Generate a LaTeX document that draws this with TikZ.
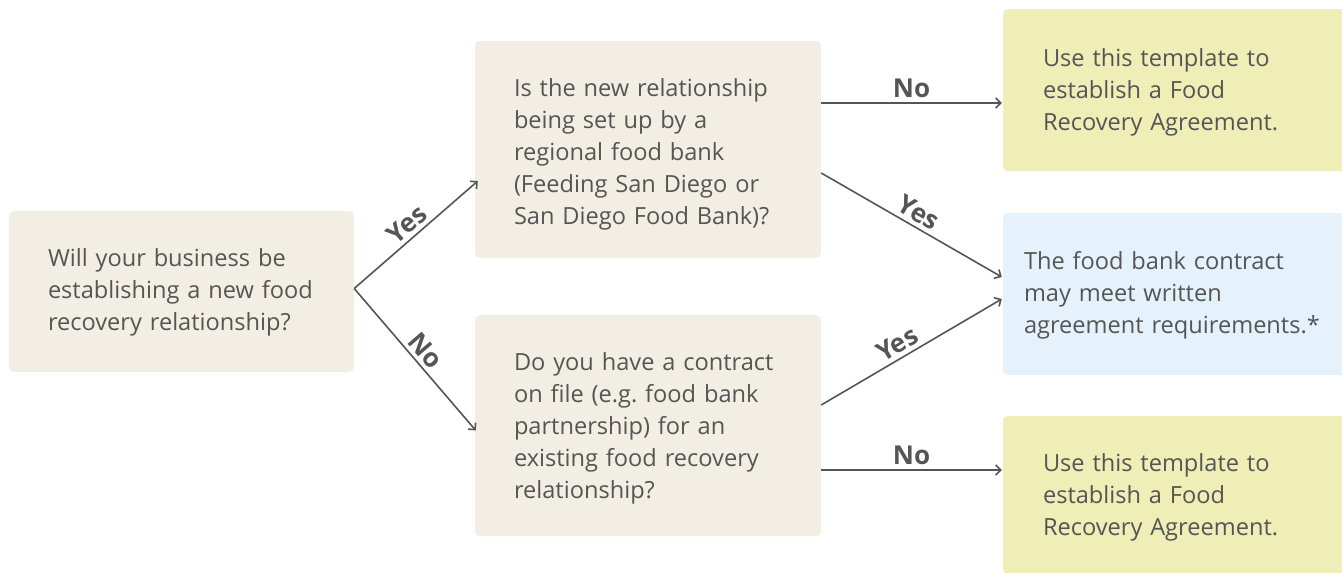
\documentclass[tikz,border=0pt]{standalone}
\usepackage{fontspec}
\setmainfont{Open Sans}
\usetikzlibrary{arrows.meta,calc}
\definecolor{txt}{HTML}{555555}
\definecolor{beige}{HTML}{F2EEE4}
\definecolor{ylw}{HTML}{EEEEB6}
\definecolor{blu}{HTML}{E6F2FB}
\frenchspacing
\begin{document}
\begin{tikzpicture}[x=1pt,y=-1pt,
  box/.style={rounded corners=5pt,inner ysep=0pt,align=left,anchor=center,
    font=\fontsize{23.6}{32}\selectfont,text=txt,
    execute at begin node={\strut\rule{0pt}{24.4pt}},execute at end node=\strut},
  lower/.style={execute at begin node={\rule{0pt}{#1}}},
  qbox/.style={box,fill=beige},
  conn/.style={draw=txt,line width=1.6pt,-{Straight Barb[length=5pt,width=10pt,line width=1.6pt]}},
  lbl/.style={font=\bfseries\fontsize{26}{28}\selectfont,text=txt,inner sep=4pt}]
\useasboundingbox (0,0) rectangle (1342,573);
\clip (0,0) rectangle (1342,573);
\node[qbox,minimum width=345pt,minimum height=161pt,text width=267pt,inner xsep=39pt] (q1) at (181.5,291.5)
  {Will your business be\\establishing a new food\\recovery relationship?};
\node[qbox,lower=31pt,minimum width=346pt,minimum height=217pt,text width=268pt,inner xsep=39pt] (q2) at (648,149.5)
  {Is the new relationship\\being set up by a\\regional food bank\\(Feeding San Diego or\\San Diego Food Bank)?};
\node[qbox,lower=27.4pt,minimum width=346pt,minimum height=221pt,text width=268pt,inner xsep=39pt] (q3) at (648,425.5)
  {Do you have a contract\\on file (e.g. food bank\\partnership) for an\\existing food recovery\\relationship?};
\node[box,lower=26.4pt,fill=ylw,minimum width=357pt,minimum height=162pt,text width=277pt,inner xsep=40pt] (r1) at (1181.5,90)
  {Use this template to\\establish a Food\\Recovery Agreement.};
\node[box,fill=blu,minimum width=357pt,minimum height=162pt,text width=315pt,inner xsep=21pt] (r2) at (1181.5,294)
  {The food bank contract\\may meet written\\agreement requirements.*};
\node[box,lower=27pt,fill=ylw,minimum width=357pt,minimum height=158pt,text width=277pt,inner xsep=40pt] (r3) at (1181.5,495)
  {Use this template to\\establish a Food\\Recovery Agreement.};
% connectors
\draw[conn] ($(q1.east)+(0,-3)$) -- node[lbl,sloped,above,pos=0.5]{Yes} ($(q2.west)+(3,31.5)$);
\draw[conn] ($(q1.east)+(0,-3)$) -- node[lbl,sloped,above,pos=0.5]{No} ($(q3.west)+(1,5)$);
\draw[conn] ($(q2.east)+(0,-46.5)$) -- node[lbl,above]{No} ($(r1.west)+(-1,13)$);
\draw[conn] ($(q2.east)+(0,23.5)$) -- node[lbl,sloped,above,pos=0.5]{Yes} ($(r2.west)+(-1,-17)$);
\draw[conn] ($(q3.east)+(0,-20.5)$) -- node[lbl,sloped,above,pos=0.46]{Yes} ($(r2.west)+(-1,5)$);
\draw[conn] ($(q3.east)+(0,44.5)$) -- node[lbl,above]{No} ($(r3.west)+(-1,-25)$);
\end{tikzpicture}
\end{document}
